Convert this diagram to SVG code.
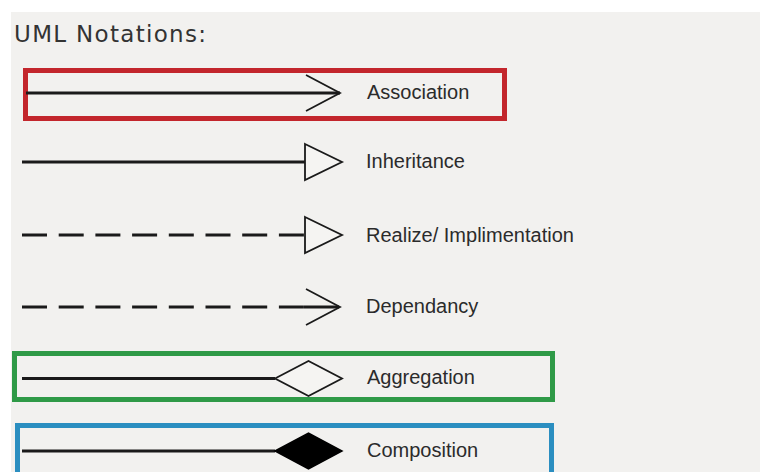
<svg xmlns="http://www.w3.org/2000/svg" width="760" height="472" viewBox="0 0 760 472">
<style>
.bg{fill:#f2f1ef}
.ln{stroke:#1a1a1a;stroke-width:3;fill:none}
.dash{stroke-dasharray:25 11.7}
.head{stroke:#1a1a1a;stroke-width:1.8;fill:none;stroke-linejoin:miter}
.hollow{stroke:#1a1a1a;stroke-width:1.8;fill:#f5f4f2}
.solid{stroke:#000;stroke-width:1.5;fill:#000}
.lbl{font-family:"Liberation Sans",Arial,sans-serif;font-size:20px;fill:#2b2b2b}
.title{font-family:"DejaVu Sans",Verdana,sans-serif;font-size:23px;fill:#333}
.box{fill:none;stroke-width:5}
</style>
<rect width="760" height="472" fill="#ffffff"/>
<rect class="bg" x="11" y="12" width="749" height="460"/>
<text class="title" x="14" y="42" textLength="192" lengthAdjust="spacing">UML Notations:</text>
<g id="association">
<rect class="box" x="25.5" y="70.5" width="479" height="48" stroke="#c3262c"/>
<line class="ln" x1="26" y1="93" x2="340" y2="93"/>
<polyline class="head" points="306,75 340,93 306,111"/>
<text class="lbl" x="367" y="99">Association</text>
</g>
<g id="inheritance">
<line class="ln" x1="22" y1="162" x2="305" y2="162"/>
<polygon class="hollow" points="305,144 342,162 305,180"/>
<text class="lbl" x="366" y="168">Inheritance</text>
</g>
<g id="realize">
<line class="ln dash" x1="22" y1="235" x2="305" y2="235"/>
<polygon class="hollow" points="305,217 342,235 305,253"/>
<text class="lbl" x="366" y="242">Realize/ Implimentation</text>
</g>
<g id="dependancy">
<line class="ln dash" x1="22" y1="307" x2="305" y2="307"/>
<line class="ln" x1="304" y1="307" x2="339" y2="307"/>
<polyline class="head" points="306,289 340,307 306,325"/>
<text class="lbl" x="366" y="313">Dependancy</text>
</g>
<g id="aggregation">
<rect class="box" x="14.5" y="353.5" width="538" height="46" stroke="#2f9a47"/>
<line class="ln" x1="22" y1="378.5" x2="275" y2="378.5"/>
<polygon class="hollow" points="275,378.5 308.5,361 342,378.5 308.5,396"/>
<text class="lbl" x="367" y="384">Aggregation</text>
</g>
<g id="composition">
<rect class="box" x="17.5" y="425.5" width="534" height="60" stroke="#2b8ec0"/>
<line class="ln" x1="22" y1="451" x2="275" y2="451"/>
<polygon class="solid" points="275,451 308.5,433 342,451 308.5,469"/>
<text class="lbl" x="367" y="457">Composition</text>
</g>
</svg>
